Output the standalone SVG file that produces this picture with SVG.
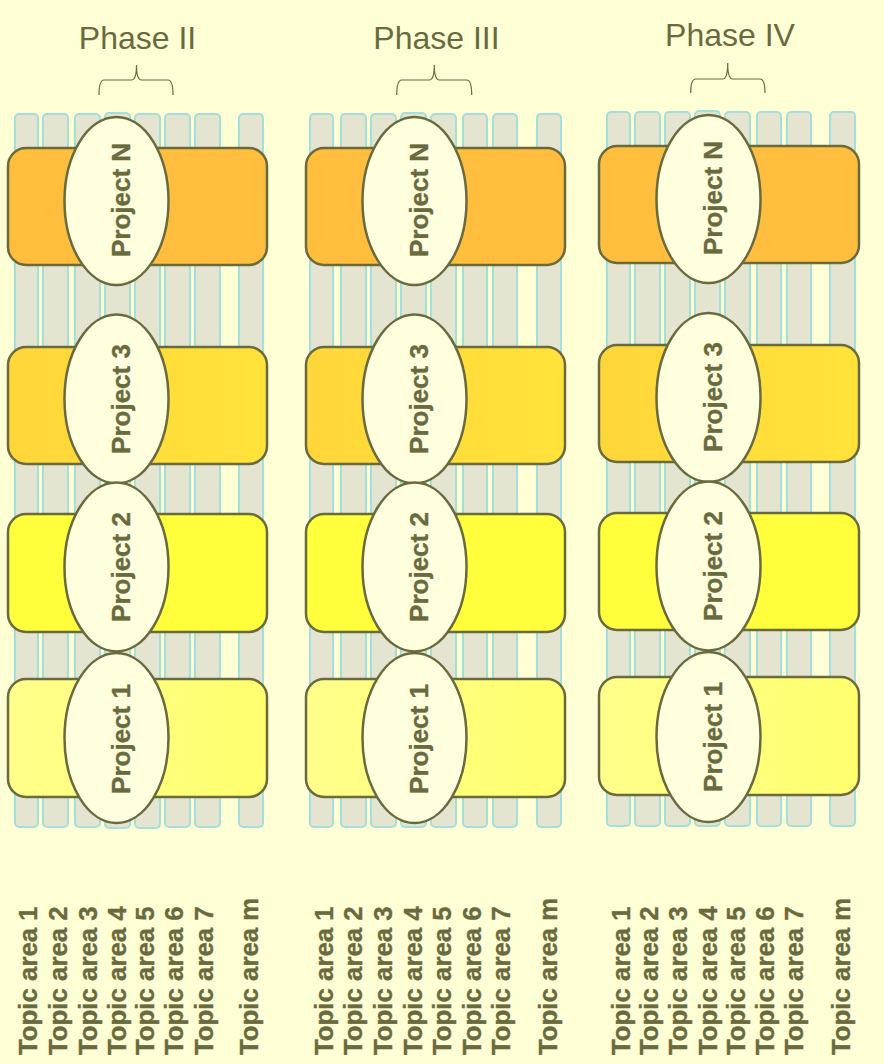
<svg xmlns="http://www.w3.org/2000/svg" width="884" height="1064" viewBox="0 0 884 1064">
<style>
.bg{fill:#FFFFD6}
.bar{fill:#E5E4D0;stroke:#A3E0DA;stroke-width:2}
.box{stroke:#696A3E;stroke-width:2.5}
.ell{fill:#FFFFDE;stroke:#696A3E;stroke-width:2.5}
.ptxt{font-family:"Liberation Sans",Arial,sans-serif;font-weight:bold;font-size:26px;fill:#696A3E;stroke:#696A3E;stroke-width:0.35;text-anchor:middle}
.ttxt{font-family:"Liberation Sans",Arial,sans-serif;font-weight:bold;font-size:25.8px;fill:#696A3E;stroke:#696A3E;stroke-width:0.35}
.htxt{font-family:"Liberation Sans",Arial,sans-serif;font-size:32px;fill:#696A3E;text-anchor:middle}
.brace{fill:none;stroke:#696A3E;stroke-width:1.2}
.pN{fill:#FFBE3D}
.p3{fill:url(#g3)}
.p2{fill:#FFFF3B}
.p1{fill:url(#g1)}
</style>
<defs>
<linearGradient id="g3" x1="0" y1="0" x2="1" y2="0"><stop offset="0" stop-color="#FFD63A"/><stop offset="1" stop-color="#FFE23A"/></linearGradient>
<linearGradient id="g1" x1="0" y1="0" x2="1" y2="0"><stop offset="0" stop-color="#FFFF8C"/><stop offset="1" stop-color="#FFFF6E"/></linearGradient>
</defs>
<rect class="bg" x="0" y="0" width="884" height="1064"/>

<!-- Phase II -->
<g id="phase2">
<g id="phase2-header">
<text class="htxt" x="137.5" y="49">Phase II</text>
<path class="brace" d="M99,95 Q99,80 104,80 L131.5,80 Q136.5,80 136.5,65 Q136.5,80 141.5,80 L168,80 Q173,80 173,95"/>
</g>
<g id="phase2-topics">
<rect class="bar" x="15" y="114" width="23" height="713" rx="4"/>
<rect class="bar" x="43" y="114" width="25" height="713" rx="4"/>
<rect class="bar" x="75" y="114" width="25" height="713" rx="4"/>
<rect class="bar" x="105" y="113" width="25" height="715" rx="4"/>
<rect class="bar" x="135" y="114" width="25" height="714" rx="4"/>
<rect class="bar" x="165" y="114" width="25" height="713" rx="4"/>
<rect class="bar" x="195" y="114" width="25" height="713" rx="4"/>
<rect class="bar" x="239" y="114" width="24" height="713" rx="4"/>
</g>
<g id="phase2-projectN"><rect class="box pN" x="8" y="148" width="259" height="117" rx="18"/><ellipse class="ell" cx="116.5" cy="201" rx="52" ry="84"/><text class="ptxt" transform="translate(129.5,200) rotate(-90)">Project N</text></g>
<g id="phase2-project3"><rect class="box p3" x="8" y="347" width="259" height="117" rx="18"/><ellipse class="ell" cx="116.5" cy="399" rx="52" ry="84.5"/><text class="ptxt" transform="translate(129.5,399) rotate(-90)">Project 3</text></g>
<g id="phase2-project2"><rect class="box p2" x="8" y="514" width="259" height="118" rx="18"/><ellipse class="ell" cx="116.5" cy="567" rx="52" ry="84.5"/><text class="ptxt" transform="translate(129.5,567) rotate(-90)">Project 2</text></g>
<g id="phase2-project1"><rect class="box p1" x="8" y="679" width="259" height="118" rx="18"/><ellipse class="ell" cx="116.5" cy="738" rx="52" ry="85"/><text class="ptxt" transform="translate(129.5,739) rotate(-90)">Project 1</text></g>
<g id="phase2-labels">
<text class="ttxt" transform="translate(36.7,1055) rotate(-90)">Topic area 1</text>
<text class="ttxt" transform="translate(66.7,1055) rotate(-90)">Topic area 2</text>
<text class="ttxt" transform="translate(96.7,1055) rotate(-90)">Topic area 3</text>
<text class="ttxt" transform="translate(125.7,1055) rotate(-90)">Topic area 4</text>
<text class="ttxt" transform="translate(154.3,1055) rotate(-90)">Topic area 5</text>
<text class="ttxt" transform="translate(183.3,1055) rotate(-90)">Topic area 6</text>
<text class="ttxt" transform="translate(213.3,1055) rotate(-90)">Topic area 7</text>
<text class="ttxt" transform="translate(258.3,1055) rotate(-90)">Topic area m</text>
</g>
</g>

<!-- Phase III -->
<g id="phase3">
<g id="phase3-header">
<text class="htxt" x="436.5" y="49">Phase III</text>
<path class="brace" d="M396.7,95 Q396.7,80 401.7,80 L429.3,80 Q434.3,80 434.3,65 Q434.3,80 439.3,80 L466.7,80 Q471.7,80 471.7,95"/>
</g>
<g id="phase3-topics">
<rect class="bar" x="310" y="114" width="23" height="713" rx="4"/>
<rect class="bar" x="341" y="114" width="25" height="713" rx="4"/>
<rect class="bar" x="371" y="114" width="25" height="713" rx="4"/>
<rect class="bar" x="401" y="113" width="25" height="714" rx="4"/>
<rect class="bar" x="431" y="114" width="25" height="713" rx="4"/>
<rect class="bar" x="463" y="114" width="24" height="713" rx="4"/>
<rect class="bar" x="493" y="114" width="24" height="713" rx="4"/>
<rect class="bar" x="537" y="114" width="24" height="713" rx="4"/>
</g>
<g id="phase3-projectN"><rect class="box pN" x="306" y="148" width="259" height="117" rx="18"/><ellipse class="ell" cx="414.5" cy="201" rx="52" ry="84"/><text class="ptxt" transform="translate(427.5,200) rotate(-90)">Project N</text></g>
<g id="phase3-project3"><rect class="box p3" x="306" y="347" width="259" height="117" rx="18"/><ellipse class="ell" cx="414.5" cy="399" rx="52" ry="84.5"/><text class="ptxt" transform="translate(427.5,399) rotate(-90)">Project 3</text></g>
<g id="phase3-project2"><rect class="box p2" x="306" y="514" width="259" height="118" rx="18"/><ellipse class="ell" cx="414.5" cy="567" rx="52" ry="84.5"/><text class="ptxt" transform="translate(427.5,567) rotate(-90)">Project 2</text></g>
<g id="phase3-project1"><rect class="box p1" x="306" y="679" width="259" height="118" rx="18"/><ellipse class="ell" cx="414.5" cy="738" rx="52" ry="85"/><text class="ptxt" transform="translate(427.5,739) rotate(-90)">Project 1</text></g>
<g id="phase3-labels">
<text class="ttxt" transform="translate(332.7,1055) rotate(-90)">Topic area 1</text>
<text class="ttxt" transform="translate(362.3,1055) rotate(-90)">Topic area 2</text>
<text class="ttxt" transform="translate(391.7,1055) rotate(-90)">Topic area 3</text>
<text class="ttxt" transform="translate(421.7,1055) rotate(-90)">Topic area 4</text>
<text class="ttxt" transform="translate(450.7,1055) rotate(-90)">Topic area 5</text>
<text class="ttxt" transform="translate(480.7,1055) rotate(-90)">Topic area 6</text>
<text class="ttxt" transform="translate(510,1055) rotate(-90)">Topic area 7</text>
<text class="ttxt" transform="translate(556.7,1055) rotate(-90)">Topic area m</text>
</g>
</g>

<!-- Phase IV -->
<g id="phase4">
<g id="phase4-header">
<text class="htxt" x="730" y="46">Phase IV</text>
<path class="brace" d="M690.7,93 Q690.7,79 695.7,79 L722.7,79 Q727.7,79 727.7,63 Q727.7,79 732.7,79 L760,79 Q765,79 765,93"/>
</g>
<g id="phase4-topics">
<rect class="bar" x="607" y="112" width="23" height="714" rx="4"/>
<rect class="bar" x="635" y="112" width="25" height="714" rx="4"/>
<rect class="bar" x="665" y="112" width="25" height="714" rx="4"/>
<rect class="bar" x="695" y="111" width="25" height="715" rx="4"/>
<rect class="bar" x="725" y="112" width="25" height="714" rx="4"/>
<rect class="bar" x="757" y="112" width="24" height="714" rx="4"/>
<rect class="bar" x="787" y="112" width="24" height="714" rx="4"/>
<rect class="bar" x="830" y="112" width="25" height="714" rx="4"/>
</g>
<g id="phase4-projectN"><rect class="box pN" x="599" y="146" width="260" height="117" rx="18"/><ellipse class="ell" cx="708.5" cy="199" rx="52" ry="84"/><text class="ptxt" transform="translate(721.5,198) rotate(-90)">Project N</text></g>
<g id="phase4-project3"><rect class="box p3" x="599" y="345" width="260" height="117" rx="18"/><ellipse class="ell" cx="708.5" cy="397.5" rx="52" ry="84.5"/><text class="ptxt" transform="translate(721.5,397) rotate(-90)">Project 3</text></g>
<g id="phase4-project2"><rect class="box p2" x="599" y="513" width="260" height="117" rx="18"/><ellipse class="ell" cx="708.5" cy="566" rx="52" ry="84.5"/><text class="ptxt" transform="translate(721.5,566) rotate(-90)">Project 2</text></g>
<g id="phase4-project1"><rect class="box p1" x="599" y="677" width="260" height="118" rx="18"/><ellipse class="ell" cx="708.5" cy="737" rx="52" ry="85"/><text class="ptxt" transform="translate(721.5,737) rotate(-90)">Project 1</text></g>
<g id="phase4-labels">
<text class="ttxt" transform="translate(630,1055) rotate(-90)">Topic area 1</text>
<text class="ttxt" transform="translate(658.3,1055) rotate(-90)">Topic area 2</text>
<text class="ttxt" transform="translate(687.3,1055) rotate(-90)">Topic area 3</text>
<text class="ttxt" transform="translate(716.7,1055) rotate(-90)">Topic area 4</text>
<text class="ttxt" transform="translate(745,1055) rotate(-90)">Topic area 5</text>
<text class="ttxt" transform="translate(774,1055) rotate(-90)">Topic area 6</text>
<text class="ttxt" transform="translate(803.3,1055) rotate(-90)">Topic area 7</text>
<text class="ttxt" transform="translate(850,1055) rotate(-90)">Topic area m</text>
</g>
</g>
</svg>
